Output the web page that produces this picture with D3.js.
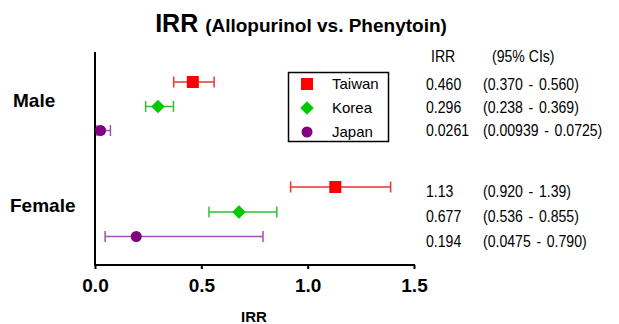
<!DOCTYPE html>
<html><head><meta charset="utf-8">
<script src="https://cdn.jsdelivr.net/npm/d3@7"></script>
<style>body{margin:0;background:#fff}svg{display:block;font-family:"Liberation Sans",Arial,sans-serif}</style>
</head><body><svg id="c" width="619" height="324"></svg>
<script>
const groups = ["Male", "Female"];
const countries = ["Taiwan", "Korea", "Japan"];
const irr = [[0.460, 0.296, 0.0261], [1.13, 0.677, 0.194]];
const ciLow = [[0.370, 0.238, 0.00939], [0.920, 0.536, 0.0475]];
const ciHigh = [[0.560, 0.369, 0.0725], [1.39, 0.855, 0.790]];
const irrText = [["0.460", "0.296", "0.0261"], ["1.13", "0.677", "0.194"]];
const ciText = [["(0.370 - 0.560)", "(0.238 - 0.369)", "(0.00939 - 0.0725)"], ["(0.920 - 1.39)", "(0.536 - 0.855)", "(0.0475 - 0.790)"]];
const xTicks = [0, 0.5, 1.0, 1.5];

const colors = {Taiwan: "#ff0000", Korea: "#00c800", Japan: "#800080"};
const barColors = {Taiwan: "#e83535", Korea: "#30c030", Japan: "#a050b0"};
const shapes = {Taiwan: d3.symbolSquare, Korea: d3.symbolSquare, Japan: d3.symbolCircle};
const sizes = {Taiwan: 144, Korea: 92, Japan: 95};
const rot = {Taiwan: 0, Korea: 45, Japan: 0};

const svg = d3.select("#c");
const x = d3.scaleLinear().domain([0, 1.5]).range([95, 414]);
const rowY = [[82, 106.5, 130.5], [187, 212, 236.5]];
const textY = [[84, 107, 130.5], [191.5, 216.5, 241]];
const groupY = d3.scalePoint().domain(groups).range([100, 205.5]);

// Title
const t = svg.append("text").attr("x", 301).attr("y", 32).attr("text-anchor", "middle")
  .attr("font-weight", "bold");
t.append("tspan").attr("font-size", 25).text("IRR ");
t.append("tspan").attr("font-size", 19).text("(Allopurinol vs. Phenytoin)");

// axes
const xa = svg.append("g").attr("transform", "translate(0,265)")
  .call(d3.axisBottom(x).tickValues(xTicks).tickFormat(d3.format(".1f")).tickSize(4).tickSizeOuter(0));
xa.select(".domain").attr("stroke", "#000").attr("stroke-width", 2).attr("d", `M${x(0)-1},0H${x(1.5)+1}`);
xa.selectAll(".tick line").attr("stroke", "#000").attr("stroke-width", 2);
xa.selectAll(".tick text").attr("font-size", 19).attr("font-weight", "bold").attr("fill", "#000")
  .attr("y", 27).attr("dy", null).attr("font-family", "Liberation Sans, Arial, sans-serif");

svg.append("line").attr("x1", 95).attr("x2", 95).attr("y1", 52).attr("y2", 266)
  .attr("stroke", "#000").attr("stroke-width", 2);

svg.append("text").attr("x", 254).attr("y", 321.5).attr("text-anchor", "middle")
  .attr("font-size", 15).attr("font-weight", "bold").text("IRR");

// group labels
svg.selectAll(".glab").data(groups).join("text")
  .attr("x", d => d === "Male" ? 13 : 10).attr("y", d => groupY(d)).attr("dy", "0.35em")
  .attr("font-size", 19).attr("font-weight", "bold").text(d => d);

function narrowText(px, py, str, ws) {
  svg.append("g").attr("transform", `translate(${px},${py}) scale(0.88,1)`)
    .append("text").attr("dy", "0.35em").attr("font-size", 16).attr("word-spacing", ws || 0).text(str);
}

// data points
groups.forEach((g, gi) => {
  countries.forEach((c, ci) => {
    const y = rowY[gi][ci];
    const gg = svg.append("g");
    const lo = x(ciLow[gi][ci]), hi = x(ciHigh[gi][ci]);
    gg.append("line").attr("x1", lo).attr("x2", hi).attr("y1", y).attr("y2", y)
      .attr("stroke", barColors[c]).attr("stroke-width", 1.5);
    [lo, hi].forEach(px => gg.append("line").attr("x1", px).attr("x2", px)
      .attr("y1", y - 5.5).attr("y2", y + 5.5).attr("stroke", barColors[c]).attr("stroke-width", 1.5));
    gg.append("path").attr("d", d3.symbol(shapes[c], sizes[c])())
      .attr("transform", `translate(${x(irr[gi][ci])},${y}) rotate(${rot[c]})`).attr("fill", colors[c]);
    narrowText(426, textY[gi][ci], irrText[gi][ci]);
    narrowText(483, textY[gi][ci], ciText[gi][ci], 2);
  });
});
narrowText(431, 56, "IRR");
narrowText(492, 56, "(95% CIs)");

// legend
const lg = svg.append("g");
lg.append("rect").attr("x", 288.5).attr("y", 72.5).attr("width", 100).attr("height", 69)
  .attr("fill", "#fff").attr("stroke", "#000").attr("stroke-width", 1.5);
countries.forEach((c, i) => {
  const y = 84 + i * 24;
  lg.append("path").attr("d", d3.symbol(shapes[c], sizes[c])())
    .attr("transform", `translate(307,${y}) rotate(${rot[c]})`).attr("fill", colors[c]);
  lg.append("text").attr("x", 332).attr("y", y).attr("dy", "0.35em").attr("font-size", 15).text(c);
});
</script></body></html>
